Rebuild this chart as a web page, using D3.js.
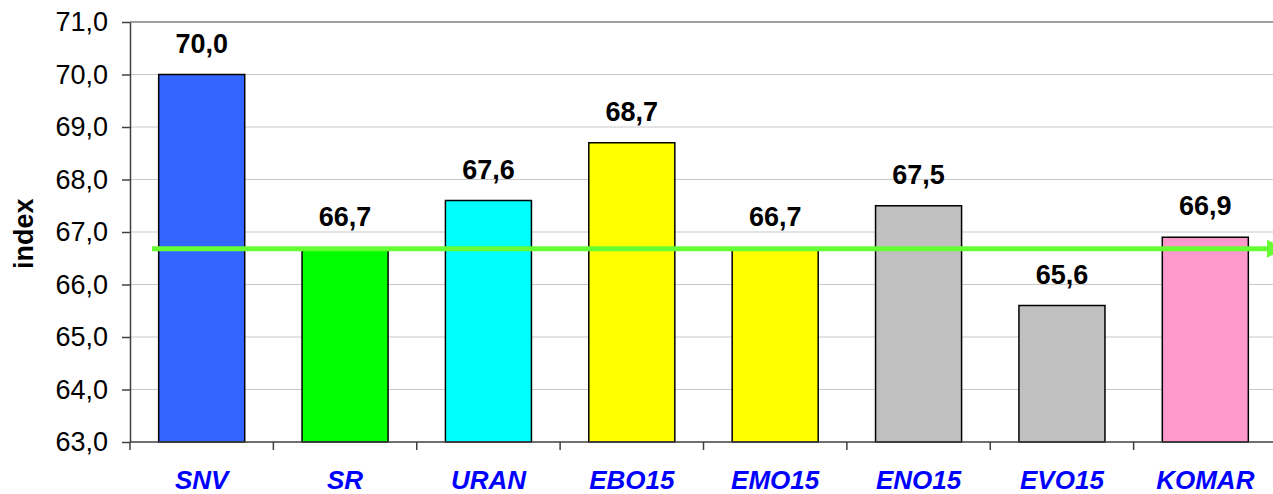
<!DOCTYPE html>
<html>
<head>
<meta charset="utf-8">
<script src="https://cdn.jsdelivr.net/npm/d3@7"></script>
<style>
  body { margin: 0; background: #fff; }
  svg { display: block; font-family: "Liberation Sans", Arial, sans-serif; }
</style>
</head>
<body>
<div id="chart"></div>
<script>
// Data
const categories = ["SNV", "SR", "URAN", "EBO15", "EMO15", "ENO15", "EVO15", "KOMAR"];
const values = [70.0, 66.7, 67.6, 68.7, 66.7, 67.5, 65.6, 66.9];
const barColors = ["#3366ff", "#00ff00", "#00ffff", "#ffff00", "#ffff00", "#c0c0c0", "#c0c0c0", "#ff99cc"];
const yTicks = [63, 64, 65, 66, 67, 68, 69, 70, 71];
const averageValue = 66.7;

const width = 1273, height = 494;
const margin = { top: 22, right: -4, bottom: 52, left: 130 };
const innerW = width - margin.left - margin.right;
const innerH = height - margin.top - margin.bottom;

const fmt = v => d3.format(".1f")(v).replace(".", ",");

const svg = d3.select("#chart").append("svg")
  .attr("width", width)
  .attr("height", height);

// arrow head for the average line
svg.append("defs").append("marker")
  .attr("id", "arrow")
  .attr("viewBox", "0 0 10 10")
  .attr("refX", 0)
  .attr("refY", 5)
  .attr("markerWidth", 3.6)
  .attr("markerHeight", 3.6)
  .attr("markerUnits", "strokeWidth")
  .attr("orient", "auto")
  .append("path")
  .attr("d", "M0,0 L10,5 L0,10 Z")
  .attr("fill", "#66ff33");

const g = svg.append("g")
  .attr("transform", `translate(${margin.left},${margin.top})`);

// Scales
const x = d3.scaleBand()
  .domain(categories)
  .range([0, innerW])
  .paddingInner(0.4)
  .paddingOuter(0.2);

const y = d3.scaleLinear()
  .domain([63, 71])
  .range([innerH, 0]);

// Gridlines
g.append("g")
  .selectAll("line")
  .data(yTicks.slice(1))
  .join("line")
  .attr("x1", 0)
  .attr("x2", innerW)
  .attr("y1", d => y(d))
  .attr("y2", d => y(d))
  .attr("stroke", d => d === 71 ? "#808080" : "#c8c8c8")
  .attr("stroke-width", d => d === 71 ? 1.5 : 1);

// Y axis
const yAxis = g.append("g")
  .call(d3.axisLeft(y).tickValues(yTicks).tickSize(8).tickSizeOuter(0).tickFormat(fmt));
yAxis.select(".domain").attr("stroke", "#404040").attr("stroke-width", 1.5);
yAxis.selectAll(".tick line").attr("stroke", "#404040").attr("stroke-width", 1.5);
yAxis.selectAll(".tick text")
  .attr("x", -22)
  .attr("fill", "#000")
  .style("font-size", "27px");

// Axis title
g.append("text")
  .attr("transform", "rotate(-90)")
  .attr("x", -(y(66.7) - 14))
  .attr("y", -97)
  .attr("text-anchor", "middle")
  .style("font-size", "27px")
  .style("font-weight", "bold")
  .text("index");

// Bars
g.append("g")
  .selectAll("rect")
  .data(values)
  .join("rect")
  .attr("x", (d, i) => x(categories[i]))
  .attr("y", d => y(d))
  .attr("width", x.bandwidth())
  .attr("height", d => y(63) - y(d))
  .attr("fill", (d, i) => barColors[i])
  .attr("stroke", "#000")
  .attr("stroke-width", 1.5);

// X axis
const step = x.step();
const bottom = g.append("g").attr("transform", `translate(0,${innerH})`);
bottom.append("line")
  .attr("x1", 0).attr("x2", innerW)
  .attr("stroke", "#404040").attr("stroke-width", 1.5);
bottom.selectAll(".xtick")
  .data(d3.range(categories.length + 1))
  .join("line")
  .attr("class", "xtick")
  .attr("x1", i => i * step)
  .attr("x2", i => i * step)
  .attr("y1", 0)
  .attr("y2", 8)
  .attr("stroke", "#404040")
  .attr("stroke-width", 1.5);
bottom.selectAll(".xlabel")
  .data(categories)
  .join("text")
  .attr("class", "xlabel")
  .attr("x", d => x(d) + x.bandwidth() / 2)
  .attr("y", 47)
  .attr("text-anchor", "middle")
  .attr("fill", "#0000ff")
  .style("font-size", "26px")
  .style("font-weight", "bold")
  .style("font-style", "italic")
  .text(d => d);

// Average line with arrow
g.append("line")
  .attr("x1", 22)
  .attr("x2", 1267 - margin.left)
  .attr("y1", y(averageValue) + 1)
  .attr("y2", y(averageValue) + 1)
  .attr("stroke", "#66ff33")
  .attr("stroke-width", 5)
  .attr("marker-end", "url(#arrow)");

// Value labels
g.append("g")
  .selectAll("text")
  .data(values)
  .join("text")
  .attr("x", (d, i) => x(categories[i]) + x.bandwidth() / 2)
  .attr("y", d => y(d) - 22)
  .attr("text-anchor", "middle")
  .style("font-size", "27px")
  .style("font-weight", "bold")
  .text(d => fmt(d));
</script>
</body>
</html>
